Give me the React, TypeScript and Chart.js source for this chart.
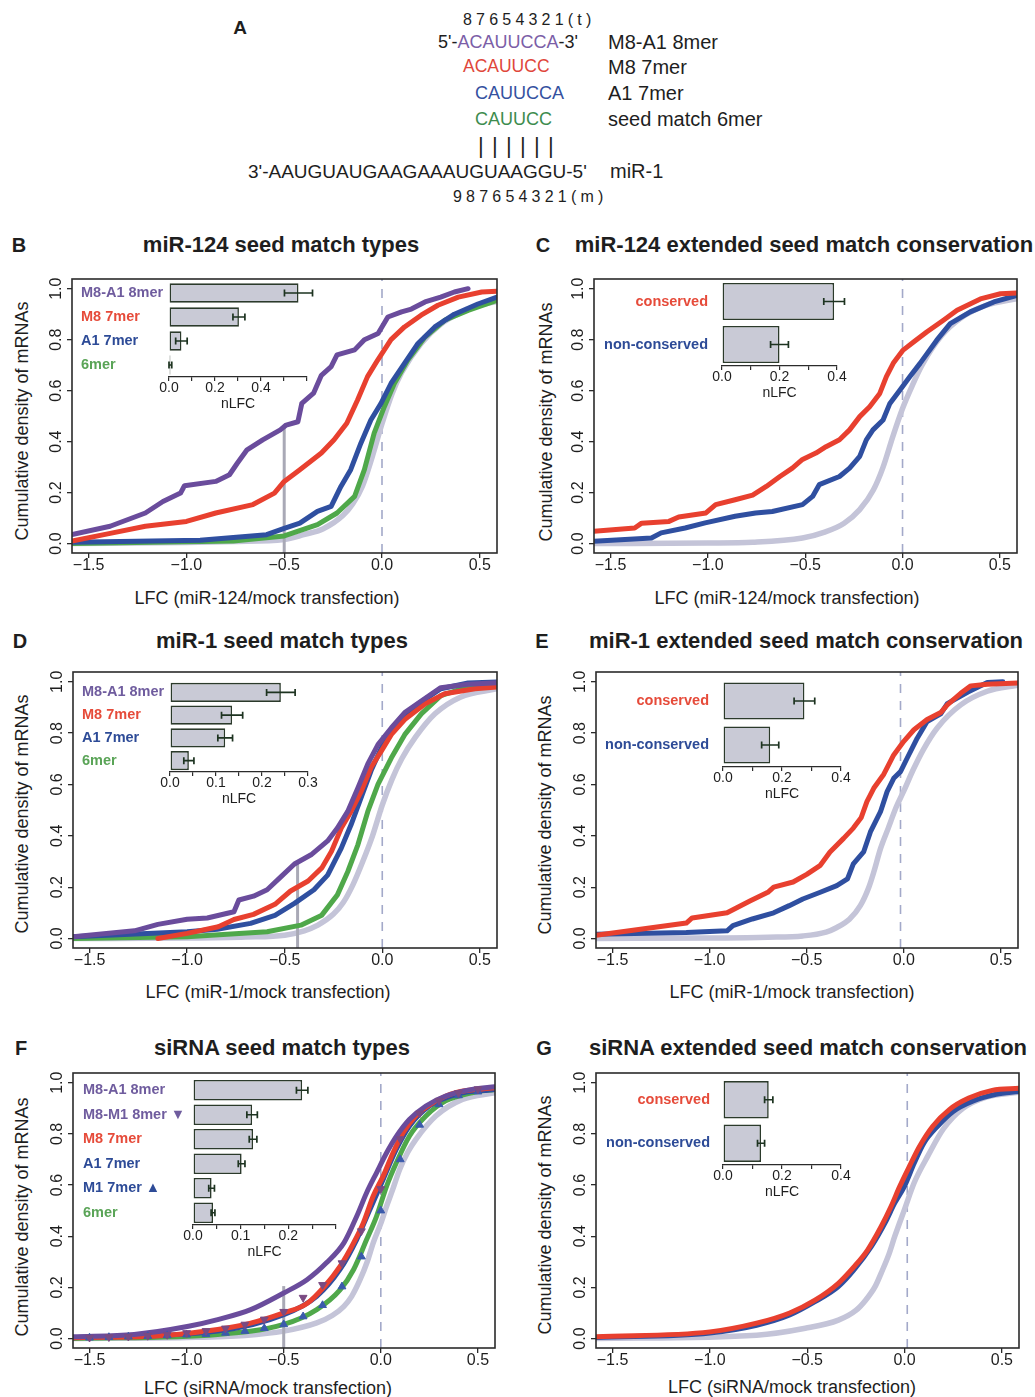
import React, { useEffect, useRef } from "react";
import { Chart, registerables } from "chart.js";

Chart.register(...registerables);

const FONT = "'Liberation Sans', Arial, Helvetica, sans-serif";
Chart.defaults.font.family = FONT;

// ---------- axes ----------
const X_MIN = -1.585;
const X_MAX = 0.588;
const Y_MIN = -0.037;
const Y_MAX = 1.038;
const X_TICKS = [-1.5, -1.0, -0.5, 0.0, 0.5];
const Y_TICKS = [0, 0.2, 0.4, 0.6, 0.8, 1.0];

// ---------- colours ----------
const PURPLE = "#6a4c9c";
const RED = "#e8402f";
const BLUE = "#2f4fa0";
const GREEN = "#4fa84a";
const BGGRAY = "#c4c4d8";
const L_PURPLE = "#6f5c9e";
const L_RED = "#e64b3a";
const L_BLUE = "#2d4b97";
const L_GREEN = "#5aa457";

// ---------- panel B : miR-124 seed match types ----------
const B_8MER_X = [-1.585, -1.39, -1.21, -1.12, -1.03, -1.01, -0.85, -0.78, -0.74, -0.69, -0.61, -0.52, -0.49, -0.43, -0.41, -0.35, -0.31, -0.26, -0.23, -0.14, -0.09, -0.02, 0.03, 0.1, 0.15, 0.22, 0.3, 0.37, 0.44];
const B_8MER_Y = [0.035, 0.068, 0.12, 0.165, 0.198, 0.227, 0.244, 0.27, 0.315, 0.368, 0.407, 0.446, 0.465, 0.478, 0.55, 0.59, 0.66, 0.694, 0.74, 0.76, 0.8, 0.824, 0.889, 0.909, 0.92, 0.948, 0.967, 0.987, 1.0];
const B_M8_X = [-1.585, -1.39, -1.21, -1.0, -0.85, -0.66, -0.55, -0.5, -0.42, -0.31, -0.245, -0.18, -0.125, -0.074, -0.022, 0.046, 0.115, 0.2, 0.286, 0.39, 0.51, 0.588];
const B_M8_Y = [0.01, 0.04, 0.068, 0.087, 0.12, 0.153, 0.198, 0.244, 0.29, 0.355, 0.407, 0.472, 0.563, 0.655, 0.72, 0.8, 0.85, 0.896, 0.935, 0.967, 0.987, 0.99];
const B_A1_X = [-1.585, -0.93, -0.59, -0.5, -0.42, -0.33, -0.26, -0.21, -0.16, -0.108, -0.057, -0.005, 0.046, 0.115, 0.184, 0.27, 0.37, 0.49, 0.588];
const B_A1_Y = [0.005, 0.013, 0.035, 0.06, 0.08, 0.126, 0.146, 0.224, 0.29, 0.394, 0.485, 0.55, 0.628, 0.707, 0.785, 0.85, 0.9, 0.94, 0.967];
const B_6MER_X = [-1.585, -0.76, -0.5, -0.33, -0.23, -0.14, -0.09, -0.04, 0.012, 0.063, 0.132, 0.22, 0.32, 0.44, 0.588];
const B_6MER_Y = [0, 0.01, 0.03, 0.074, 0.12, 0.185, 0.29, 0.433, 0.537, 0.628, 0.72, 0.81, 0.876, 0.915, 0.954];
const B_BG_X = [-1.585, -1.0, -0.75, -0.5, -0.4, -0.3, -0.2, -0.15, -0.1, -0.05, 0.0, 0.05, 0.1, 0.2, 0.3, 0.4, 0.5, 0.588];
const B_BG_Y = [0, 0.004, 0.008, 0.016, 0.035, 0.058, 0.11, 0.155, 0.225, 0.34, 0.47, 0.585, 0.67, 0.785, 0.86, 0.905, 0.935, 0.95];
const B_MARK = [-0.5, 0.46];
const B_INSET_LABELS = ["M8-A1 8mer", "M8 7mer", "A1 7mer", "6mer"];
const B_INSET_NLFC = [0.563, 0.304, 0.054, 0.006];
const B_INSET_ERR = [0.061, 0.026, 0.025, 0.006];
const B_INSET_TICKS = [0, 0.1, 0.2, 0.3, 0.4, 0.5, 0.6];
const B_INSET_LABELED = [0, 0.2, 0.4];

// ---------- panel C : miR-124 conservation ----------
const C_CONS_X = [-1.585, -1.376, -1.34, -1.2, -1.15, -1.01, -0.96, -0.86, -0.77, -0.7, -0.63, -0.566, -0.514, -0.445, -0.393, -0.324, -0.272, -0.22, -0.169, -0.117, -0.083, -0.048, 0.003, 0.055, 0.124, 0.21, 0.28, 0.4, 0.503, 0.588];
const C_CONS_Y = [0.048, 0.061, 0.08, 0.087, 0.104, 0.12, 0.153, 0.172, 0.19, 0.224, 0.263, 0.296, 0.33, 0.355, 0.38, 0.407, 0.446, 0.498, 0.537, 0.589, 0.655, 0.707, 0.759, 0.79, 0.83, 0.876, 0.915, 0.96, 0.98, 0.983];
const C_NONC_X = [-1.585, -1.29, -1.24, -1.117, -1.014, -0.86, -0.755, -0.669, -0.514, -0.462, -0.428, -0.324, -0.272, -0.22, -0.186, -0.152, -0.1, -0.065, -0.014, 0.038, 0.09, 0.176, 0.245, 0.348, 0.469, 0.588];
const C_NONC_Y = [0.009, 0.022, 0.042, 0.061, 0.081, 0.107, 0.12, 0.126, 0.153, 0.185, 0.231, 0.263, 0.296, 0.342, 0.407, 0.446, 0.485, 0.55, 0.602, 0.655, 0.707, 0.798, 0.863, 0.909, 0.948, 0.974];
const C_BG_X = [-1.585, -1.0, -0.77, -0.514, -0.4, -0.3, -0.22, -0.15, -0.1, -0.05, 0.0, 0.05, 0.1, 0.2, 0.3, 0.43, 0.588];
const C_BG_Y = [0, 0.002, 0.005, 0.022, 0.045, 0.08, 0.133, 0.21, 0.3, 0.42, 0.53, 0.62, 0.7, 0.815, 0.885, 0.935, 0.961];
const CONS_LABELS = ["conserved", "non-conserved"];
const C_INSET_NLFC = [0.39, 0.2];
const C_INSET_ERR = [0.036, 0.031];
const CONS_TICKS = [0, 0.1, 0.2, 0.3, 0.4];
const CONS_LABELED = [0, 0.2, 0.4];

// ---------- panel D : miR-1 seed match types ----------
const D_8MER_X = [-1.585, -1.27, -1.15, -1.0, -0.897, -0.76, -0.735, -0.66, -0.59, -0.52, -0.45, -0.365, -0.28, -0.23, -0.177, -0.125, -0.074, -0.022, 0.046, 0.115, 0.2, 0.3, 0.44, 0.588];
const D_8MER_Y = [0.007, 0.03, 0.055, 0.075, 0.08, 0.104, 0.15, 0.165, 0.19, 0.24, 0.29, 0.326, 0.38, 0.43, 0.495, 0.586, 0.68, 0.755, 0.82, 0.88, 0.925, 0.977, 0.99, 0.996];
const D_M8_X = [-1.15, -1.0, -0.84, -0.76, -0.66, -0.55, -0.47, -0.38, -0.31, -0.26, -0.21, -0.16, -0.108, -0.057, -0.005, 0.046, 0.115, 0.22, 0.32, 0.475, 0.588];
const D_M8_Y = [0.0, 0.02, 0.046, 0.074, 0.094, 0.133, 0.185, 0.224, 0.275, 0.34, 0.43, 0.495, 0.573, 0.667, 0.73, 0.794, 0.853, 0.914, 0.953, 0.973, 0.98];
const D_A1_X = [-1.585, -1.0, -0.846, -0.675, -0.55, -0.45, -0.35, -0.28, -0.21, -0.16, -0.108, -0.057, 0.012, 0.098, 0.184, 0.3, 0.44, 0.588];
const D_A1_Y = [0.007, 0.026, 0.036, 0.059, 0.09, 0.137, 0.19, 0.247, 0.352, 0.443, 0.55, 0.654, 0.77, 0.862, 0.914, 0.973, 0.995, 0.999];
const D_6MER_X = [-1.585, -1.0, -0.59, -0.417, -0.31, -0.23, -0.177, -0.125, -0.074, -0.022, 0.046, 0.115, 0.2, 0.3, 0.44, 0.588];
const D_6MER_Y = [0, 0.007, 0.026, 0.052, 0.091, 0.17, 0.26, 0.365, 0.495, 0.6, 0.703, 0.794, 0.875, 0.946, 0.98, 0.99];
const D_BG_X = [-1.585, -1.0, -0.7, -0.5, -0.4, -0.33, -0.25, -0.2, -0.15, -0.1, -0.05, 0.0, 0.05, 0.1, 0.17, 0.27, 0.4, 0.588];
const D_BG_Y = [0, 0.002, 0.006, 0.013, 0.03, 0.052, 0.095, 0.14, 0.21, 0.3, 0.4, 0.52, 0.62, 0.7, 0.784, 0.875, 0.94, 0.973];
const D_MARK = [-0.434, 0.293];
const D_INSET_NLFC = [0.241, 0.135, 0.12, 0.041];
const D_INSET_ERR = [0.031, 0.023, 0.016, 0.011];
const D_INSET_TICKS = [0, 0.05, 0.1, 0.15, 0.2, 0.25, 0.3];
const D_INSET_LABELED = [0, 0.1, 0.2, 0.3];

// ---------- panel E : miR-1 conservation ----------
const E_CONS_X = [-1.585, -1.29, -1.12, -1.09, -0.91, -0.86, -0.79, -0.7, -0.67, -0.57, -0.5, -0.43, -0.38, -0.31, -0.26, -0.22, -0.19, -0.155, -0.103, -0.052, 0, 0.052, 0.12, 0.19, 0.224, 0.293, 0.345, 0.43, 0.588];
const E_CONS_Y = [0.013, 0.043, 0.06, 0.08, 0.1, 0.12, 0.147, 0.18, 0.2, 0.22, 0.25, 0.285, 0.337, 0.39, 0.43, 0.47, 0.533, 0.585, 0.64, 0.715, 0.768, 0.813, 0.853, 0.88, 0.91, 0.955, 0.984, 0.99, 0.995];
const E_NONC_X = [-1.585, -1.12, -0.91, -0.88, -0.78, -0.67, -0.59, -0.52, -0.43, -0.345, -0.29, -0.26, -0.207, -0.172, -0.12, -0.086, -0.052, -0.017, 0.017, 0.069, 0.12, 0.19, 0.224, 0.33, 0.43, 0.51];
const E_NONC_Y = [0.017, 0.023, 0.03, 0.05, 0.076, 0.1, 0.128, 0.154, 0.18, 0.206, 0.232, 0.291, 0.337, 0.415, 0.494, 0.572, 0.624, 0.65, 0.702, 0.78, 0.845, 0.875, 0.915, 0.96, 0.997, 1.0];
const E_BG_X = [-1.585, -1.0, -0.7, -0.52, -0.4, -0.345, -0.28, -0.224, -0.18, -0.155, -0.12, -0.08, -0.04, 0.0, 0.05, 0.1, 0.172, 0.293, 0.43, 0.588];
const E_BG_Y = [0, 0.002, 0.005, 0.01, 0.025, 0.043, 0.075, 0.128, 0.2, 0.258, 0.35, 0.43, 0.51, 0.575, 0.66, 0.735, 0.82, 0.91, 0.963, 0.987];
const E_INSET_NLFC = [0.276, 0.16];
const E_INSET_ERR = [0.035, 0.029];

// ---------- panel F : siRNA seed match types ----------
const F_8MER_X = [-1.585, -1.27, -0.99, -0.84, -0.67, -0.5, -0.38, -0.28, -0.19, -0.124, -0.073, -0.022, 0.03, 0.08, 0.147, 0.232, 0.334, 0.47, 0.588];
const F_8MER_Y = [0.007, 0.016, 0.048, 0.074, 0.113, 0.178, 0.23, 0.296, 0.374, 0.478, 0.57, 0.648, 0.726, 0.79, 0.856, 0.909, 0.948, 0.974, 0.984];
const F_M8_X = [-1.585, -1.11, -0.84, -0.67, -0.5, -0.38, -0.29, -0.21, -0.14, -0.09, -0.039, 0.012, 0.063, 0.114, 0.18, 0.27, 0.385, 0.588];
const F_M8_Y = [0.003, 0.012, 0.035, 0.06, 0.1, 0.137, 0.204, 0.282, 0.374, 0.452, 0.557, 0.635, 0.726, 0.804, 0.87, 0.922, 0.961, 0.98];
const F_A1_X = [-1.585, -0.84, -0.5, -0.33, -0.21, -0.124, -0.056, 0.012, 0.08, 0.147, 0.25, 0.385, 0.588];
const F_A1_Y = [0.003, 0.029, 0.093, 0.165, 0.27, 0.387, 0.504, 0.622, 0.74, 0.83, 0.909, 0.954, 0.974];
const F_6MER_X = [-1.585, -0.84, -0.5, -0.33, -0.21, -0.14, -0.073, -0.022, 0.03, 0.08, 0.147, 0.232, 0.334, 0.47, 0.588];
const F_6MER_Y = [0, 0.016, 0.055, 0.113, 0.19, 0.27, 0.387, 0.478, 0.596, 0.687, 0.791, 0.87, 0.929, 0.961, 0.974];
const F_BG_X = [-1.585, -1.0, -0.7, -0.5, -0.33, -0.25, -0.19, -0.15, -0.107, -0.07, -0.039, 0.0, 0.03, 0.06, 0.097, 0.14, 0.18, 0.283, 0.42, 0.588];
const F_BG_Y = [0, 0.004, 0.012, 0.029, 0.061, 0.09, 0.126, 0.165, 0.23, 0.3, 0.374, 0.45, 0.518, 0.58, 0.661, 0.73, 0.778, 0.87, 0.935, 0.961];
const F_MARKER_X = [-1.5, -1.4, -1.3, -1.2, -1.1, -1.0, -0.9, -0.8, -0.7, -0.6, -0.5, -0.4, -0.3, -0.2, -0.1, 0.0, 0.1, 0.2, 0.3, 0.4, 0.5];
const F_M8M1_Y = [0.004, 0.006, 0.008, 0.011, 0.015, 0.022, 0.03, 0.04, 0.055, 0.075, 0.105, 0.16, 0.21, 0.295, 0.42, 0.585, 0.78, 0.88, 0.93, 0.96, 0.975];
const F_M1_Y = [0.003, 0.005, 0.007, 0.009, 0.012, 0.015, 0.017, 0.022, 0.029, 0.04, 0.055, 0.086, 0.13, 0.203, 0.32, 0.5, 0.7, 0.835, 0.915, 0.95, 0.965];
const F_MARK = [-0.5, 0.205];
const F_INSET_LABELS = ["M8-A1 8mer", "M8-M1 8mer \u25BC", "M8 7mer", "A1 7mer", "M1 7mer \u25B2", "6mer"];
const F_INSET_NLFC = [0.229, 0.124, 0.126, 0.102, 0.039, 0.042];
const F_INSET_ERR = [0.012, 0.011, 0.008, 0.007, 0.006, 0.004];
const F_INSET_TICKS = [0, 0.05, 0.1, 0.15, 0.2, 0.25, 0.3];
const F_INSET_LABELED = [0, 0.1, 0.2];

// ---------- panel G : siRNA conservation ----------
const G_CONS_X = [-1.585, -1.0, -0.76, -0.59, -0.46, -0.34, -0.26, -0.19, -0.12, -0.07, -0.025, 0.025, 0.076, 0.145, 0.23, 0.33, 0.45, 0.588];
const G_CONS_Y = [0.007, 0.026, 0.06, 0.1, 0.15, 0.216, 0.28, 0.346, 0.438, 0.515, 0.594, 0.673, 0.75, 0.83, 0.895, 0.94, 0.97, 0.978];
const G_NONC_X = [-1.585, -1.0, -0.76, -0.59, -0.46, -0.34, -0.26, -0.17, -0.1, -0.05, 0.0, 0.05, 0.1, 0.17, 0.25, 0.35, 0.47, 0.588];
const G_NONC_Y = [0.004, 0.022, 0.052, 0.092, 0.144, 0.203, 0.268, 0.36, 0.452, 0.53, 0.596, 0.686, 0.765, 0.83, 0.888, 0.928, 0.955, 0.966];
const G_BG_X = [-1.585, -0.76, -0.51, -0.34, -0.25, -0.2, -0.15, -0.12, -0.08, -0.05, 0.0, 0.05, 0.12, 0.2, 0.3, 0.42, 0.588];
const G_BG_Y = [0, 0.013, 0.04, 0.072, 0.11, 0.15, 0.205, 0.256, 0.33, 0.4, 0.505, 0.61, 0.714, 0.82, 0.9, 0.944, 0.963];
const G_INSET_NLFC = [0.155, 0.129];
const G_INSET_ERR = [0.014, 0.012];

// dashed reference line positions (LFC)
const DASH_X = { B: 0, C: 0, D: 0, E: -0.017, F: 0, G: 0.014 };

// ---------- helpers ----------
type Curve = { x: number[]; y: number[]; color: string; w: number; smooth?: boolean };
type Markers = { x: number[]; y: number[]; color: string; down: boolean };
type Inset = {
  l: number; t: number; r: number; b: number;
  align: "far" | "near"; labelLeft?: number; pad?: number;
  labels: string[]; colors: string[]; values: number[]; errs: number[];
  max: number; ticks: number[]; labeled: number[]; pct: number;
};
type Panel = {
  id: string; title: string; xtitle: string; dash: number;
  box: { l: number; t: number; r: number; b: number };
  letterPos: [number, number]; titlePos: [number, number]; yPos: [number, number]; xPos: [number, number];
  curves: Curve[]; markers?: Markers[]; mark?: number[]; inset: Inset;
};

const pts = (xs: number[], ys: number[]) => xs.map((x, i) => ({ x, y: ys[i] }));
const fmtX = (v: number) => (v < -1e-9 ? "\u2212" : "") + Math.abs(v).toFixed(1);

const framePlugin = {
  id: "frame",
  afterDraw(chart: any) {
    const { ctx, chartArea: a } = chart;
    ctx.save();
    ctx.strokeStyle = "#2b2b2b";
    ctx.lineWidth = 1.6;
    ctx.strokeRect(a.left, a.top, a.right - a.left, a.bottom - a.top);
    ctx.restore();
  },
};

const MAIN_YW = 50;
const MAIN_XH = 30;
const MAIN_PT = 16;
const MAIN_PR = 14;
const LW = 5;

function mainConfig(p: Panel): any {
  const ds: any[] = [];
  (p.markers || []).forEach((m) =>
    ds.push({
      data: pts(m.x, m.y), showLine: false, pointStyle: "triangle", pointRotation: m.down ? 180 : 0,
      pointRadius: 4.5, pointBackgroundColor: m.color, pointBorderColor: m.color, pointBorderWidth: 1, clip: 4,
    })
  );
  const line = (c: Curve) => ({
    data: pts(c.x, c.y), borderColor: c.color, borderWidth: c.w, pointRadius: 0, fill: false,
    tension: 0, cubicInterpolationMode: c.smooth ? "monotone" : "default",
    borderJoinStyle: "round", borderCapStyle: "round", clip: 0,
  });
  const fg = p.curves.filter((c) => c.color !== BGGRAY);
  const bg = p.curves.filter((c) => c.color === BGGRAY);
  fg.forEach((c) => ds.push(line(c)));
  if (p.mark) {
    ds.push({ data: [{ x: p.mark[0], y: Y_MIN }, { x: p.mark[0], y: p.mark[1] }], borderColor: "#a9a9b6", borderWidth: 3, pointRadius: 0, clip: 0 });
  }
  bg.forEach((c) => ds.push(line(c)));
  ds.push({ data: [{ x: p.dash, y: Y_MIN }, { x: p.dash, y: Y_MAX }], borderColor: "#a3a9c9", borderWidth: 1.6, borderDash: [9, 8], pointRadius: 0, clip: 0 });

  const axisCommon = {
    grid: { display: true, drawOnChartArea: false, drawTicks: true, tickLength: 5, color: "#2b2b2b", tickColor: "#2b2b2b", lineWidth: 1.3 },
    border: { display: false },
  };
  return {
    type: "line",
    data: { datasets: ds },
    options: {
      animation: false, responsive: false, events: [],
      layout: { padding: { left: 0, top: MAIN_PT, right: MAIN_PR, bottom: 0 }, autoPadding: false },
      plugins: { legend: { display: false }, tooltip: { enabled: false }, title: { display: false } },
      scales: {
        x: {
          type: "linear", min: X_MIN, max: X_MAX, ...axisCommon,
          afterBuildTicks: (s: any) => { s.ticks = X_TICKS.map((v) => ({ value: v })); },
          afterFit: (s: any) => { s.height = MAIN_XH; },
          ticks: { autoSkip: false, maxRotation: 0, minRotation: 0, padding: 0, color: "#1e1e1e", font: { size: 16, lineHeight: 1 }, callback: (v: any) => fmtX(Number(v)) },
        },
        y: {
          type: "linear", min: Y_MIN, max: Y_MAX, ...axisCommon,
          afterBuildTicks: (s: any) => { s.ticks = Y_TICKS.map((v) => ({ value: v })); },
          afterFit: (s: any) => { s.width = MAIN_YW; },
          ticks: { autoSkip: false, minRotation: 90, maxRotation: 90, crossAlign: "center", padding: -1, color: "#1e1e1e", font: { size: 16, lineHeight: 1 }, callback: (v: any) => Number(v).toFixed(1) },
        },
      },
    },
    plugins: [framePlugin],
  };
}

const INSET_XH = 36;
const INSET_PT = 26;
const INSET_PR = 16;

function insetGeom(s: Inset) {
  const yw = s.align === "far" ? s.l - (s.labelLeft as number) : 140;
  const left = s.l - yw;
  const top = s.t - INSET_PT;
  return { yw, left, top, width: s.r - left + INSET_PR, height: s.b - top + INSET_XH };
}

function insetConfig(s: Inset): any {
  const g = insetGeom(s);
  const errPlugin = {
    id: "errbars",
    afterDatasetsDraw(chart: any) {
      const ctx = chart.ctx;
      const xs = chart.scales.x;
      const meta = chart.getDatasetMeta(0);
      ctx.save();
      ctx.strokeStyle = "#1d3320";
      ctx.lineWidth = 1.7;
      meta.data.forEach((bar: any, i: number) => {
        const y = bar.y;
        const x1 = xs.getPixelForValue(Math.max(0, s.values[i] - s.errs[i]));
        const x2 = xs.getPixelForValue(s.values[i] + s.errs[i]);
        ctx.beginPath();
        ctx.moveTo(x1, y); ctx.lineTo(x2, y);
        ctx.moveTo(x1, y - 3.5); ctx.lineTo(x1, y + 3.5);
        ctx.moveTo(x2, y - 3.5); ctx.lineTo(x2, y + 3.5);
        ctx.stroke();
      });
      ctx.restore();
    },
  };
  return {
    type: "bar",
    data: {
      labels: s.labels,
      datasets: [{ data: s.values, backgroundColor: "#c9cad6", borderColor: "#2b3a2b", borderWidth: 1.6, borderSkipped: false, categoryPercentage: 1, barPercentage: s.pct }],
    },
    options: {
      indexAxis: "y", animation: false, responsive: false, events: [],
      layout: { padding: { left: 0, top: INSET_PT, right: INSET_PR, bottom: 0 }, autoPadding: false },
      plugins: { legend: { display: false }, tooltip: { enabled: false }, title: { display: false } },
      scales: {
        x: {
          type: "linear", min: 0, max: s.max,
          afterBuildTicks: (sc: any) => { sc.ticks = s.ticks.map((v) => ({ value: v })); },
          afterFit: (sc: any) => { sc.height = INSET_XH; },
          grid: { display: true, drawOnChartArea: false, drawTicks: true, tickLength: 4, color: "#2b2b2b", tickColor: "#2b2b2b", lineWidth: 1.2 },
          border: { display: true, color: "#2b2b2b", width: 1.3 },
          ticks: {
            autoSkip: false, maxRotation: 0, minRotation: 0, padding: 0, color: "#1e1e1e", font: { size: 14, lineHeight: 1 },
            callback: (v: any) => { const n = Number(v); return s.labeled.some((l) => Math.abs(l - n) < 1e-9) ? n.toFixed(1) : ""; },
          },
          title: { display: true, text: "nLFC", color: "#1e1e1e", font: { size: 14 }, padding: { top: 0, bottom: 0 } },
        },
        y: {
          type: "category",
          afterFit: (sc: any) => { sc.width = g.yw; },
          grid: { display: false, drawTicks: false },
          border: { display: false },
          ticks: { crossAlign: s.align, padding: s.align === "near" ? (s.pad as number) : 0, font: { size: 14.5, weight: "bold" }, color: (ctx: any) => s.colors[ctx.index] },
        },
      },
    },
    plugins: [errPlugin],
  };
}

// ---------- panels ----------
const PANELS: Panel[] = [
  {
    id: "B", title: "miR-124 seed match types", xtitle: "LFC (miR-124/mock transfection)", dash: DASH_X.B,
    box: { l: 72, t: 279, r: 497, b: 553 },
    letterPos: [19, 245], titlePos: [281, 245], yPos: [22, 421], xPos: [267, 598],
    curves: [
      { x: B_8MER_X, y: B_8MER_Y, color: PURPLE, w: LW },
      { x: B_M8_X, y: B_M8_Y, color: RED, w: LW },
      { x: B_A1_X, y: B_A1_Y, color: BLUE, w: LW },
      { x: B_6MER_X, y: B_6MER_Y, color: GREEN, w: LW },
      { x: B_BG_X, y: B_BG_Y, color: BGGRAY, w: 5.5, smooth: true },
    ],
    mark: B_MARK,
    inset: {
      l: 169, t: 281, r: 307, b: 377, align: "far", labelLeft: 81,
      labels: B_INSET_LABELS, colors: [L_PURPLE, L_RED, L_BLUE, L_GREEN], values: B_INSET_NLFC, errs: B_INSET_ERR,
      max: 0.6, ticks: B_INSET_TICKS, labeled: B_INSET_LABELED, pct: 0.81,
    },
  },
  {
    id: "C", title: "miR-124 extended seed match conservation", xtitle: "LFC (miR-124/mock transfection)", dash: DASH_X.C,
    box: { l: 594, t: 279, r: 1017, b: 553 },
    letterPos: [543, 245], titlePos: [804, 245], yPos: [546, 422], xPos: [787, 598],
    curves: [
      { x: C_CONS_X, y: C_CONS_Y, color: RED, w: LW },
      { x: C_NONC_X, y: C_NONC_Y, color: BLUE, w: LW },
      { x: C_BG_X, y: C_BG_Y, color: BGGRAY, w: 5.5, smooth: true },
    ],
    inset: {
      l: 722, t: 280, r: 837, b: 366, align: "near", pad: 14,
      labels: CONS_LABELS, colors: [L_RED, L_BLUE], values: C_INSET_NLFC, errs: C_INSET_ERR,
      max: 0.4, ticks: CONS_TICKS, labeled: CONS_LABELED, pct: 0.86,
    },
  },
  {
    id: "D", title: "miR-1 seed match types", xtitle: "LFC (miR-1/mock transfection)", dash: DASH_X.D,
    box: { l: 73, t: 672, r: 497, b: 948 },
    letterPos: [20, 641], titlePos: [282, 641], yPos: [22, 814], xPos: [268, 992],
    curves: [
      { x: D_8MER_X, y: D_8MER_Y, color: PURPLE, w: LW },
      { x: D_M8_X, y: D_M8_Y, color: RED, w: LW },
      { x: D_A1_X, y: D_A1_Y, color: BLUE, w: LW },
      { x: D_6MER_X, y: D_6MER_Y, color: GREEN, w: LW },
      { x: D_BG_X, y: D_BG_Y, color: BGGRAY, w: 5.5, smooth: true },
    ],
    mark: D_MARK,
    inset: {
      l: 170, t: 681, r: 308, b: 772, align: "far", labelLeft: 82,
      labels: B_INSET_LABELS, colors: [L_PURPLE, L_RED, L_BLUE, L_GREEN], values: D_INSET_NLFC, errs: D_INSET_ERR,
      max: 0.3, ticks: D_INSET_TICKS, labeled: D_INSET_LABELED, pct: 0.84,
    },
  },
  {
    id: "E", title: "miR-1 extended seed match conservation", xtitle: "LFC (miR-1/mock transfection)", dash: DASH_X.E,
    box: { l: 596, t: 672, r: 1018, b: 948 },
    letterPos: [542, 641], titlePos: [806, 641], yPos: [545, 815], xPos: [792, 992],
    curves: [
      { x: E_CONS_X, y: E_CONS_Y, color: RED, w: LW },
      { x: E_NONC_X, y: E_NONC_Y, color: BLUE, w: LW },
      { x: E_BG_X, y: E_BG_Y, color: BGGRAY, w: 5.5, smooth: true },
    ],
    inset: {
      l: 723, t: 679, r: 841, b: 767, align: "near", pad: 14,
      labels: CONS_LABELS, colors: [L_RED, L_BLUE], values: E_INSET_NLFC, errs: E_INSET_ERR,
      max: 0.4, ticks: CONS_TICKS, labeled: CONS_LABELED, pct: 0.84,
    },
  },
  {
    id: "F", title: "siRNA seed match types", xtitle: "LFC (siRNA/mock transfection)", dash: DASH_X.F,
    box: { l: 73, t: 1073, r: 495, b: 1348 },
    letterPos: [21, 1048], titlePos: [282, 1048], yPos: [22, 1217], xPos: [268, 1388],
    curves: [
      { x: F_8MER_X, y: F_8MER_Y, color: PURPLE, w: LW, smooth: true },
      { x: F_M8_X, y: F_M8_Y, color: RED, w: LW, smooth: true },
      { x: F_A1_X, y: F_A1_Y, color: BLUE, w: LW, smooth: true },
      { x: F_6MER_X, y: F_6MER_Y, color: GREEN, w: LW, smooth: true },
      { x: F_BG_X, y: F_BG_Y, color: BGGRAY, w: 5.5, smooth: true },
    ],
    markers: [
      { x: F_MARKER_X, y: F_M8M1_Y, color: "#7a4a82", down: true },
      { x: F_MARKER_X, y: F_M1_Y, color: "#3a5aac", down: false },
    ],
    mark: F_MARK,
    inset: {
      l: 193, t: 1078, r: 336, b: 1225, align: "far", labelLeft: 83,
      labels: F_INSET_LABELS, colors: [L_PURPLE, L_PURPLE, L_RED, L_BLUE, L_BLUE, L_GREEN], values: F_INSET_NLFC, errs: F_INSET_ERR,
      max: 0.3, ticks: F_INSET_TICKS, labeled: F_INSET_LABELED, pct: 0.845,
    },
  },
  {
    id: "G", title: "siRNA extended seed match conservation", xtitle: "LFC (siRNA/mock transfection)", dash: DASH_X.G,
    box: { l: 596, t: 1073, r: 1019, b: 1348 },
    letterPos: [544, 1048], titlePos: [808, 1048], yPos: [545, 1215], xPos: [792, 1387],
    curves: [
      { x: G_CONS_X, y: G_CONS_Y, color: RED, w: LW, smooth: true },
      { x: G_NONC_X, y: G_NONC_Y, color: BLUE, w: LW, smooth: true },
      { x: G_BG_X, y: G_BG_Y, color: BGGRAY, w: 5.5, smooth: true },
    ],
    inset: {
      l: 723, t: 1078, r: 841, b: 1165, align: "near", pad: 13,
      labels: CONS_LABELS, colors: [L_RED, L_BLUE], values: G_INSET_NLFC, errs: G_INSET_ERR,
      max: 0.4, ticks: CONS_TICKS, labeled: CONS_LABELED, pct: 0.86,
    },
  },
];

// ---------- components ----------
function ChartCanvas({ make, left, top, width, height }: { make: () => any; left: number; top: number; width: number; height: number }) {
  const ref = useRef<HTMLCanvasElement>(null);
  useEffect(() => {
    const c = new Chart(ref.current as HTMLCanvasElement, make());
    return () => c.destroy();
  }, []);
  return <canvas ref={ref} width={width} height={height} style={{ position: "absolute", left, top, width, height }} />;
}

function T(props: { x: number; y: number; s: number; children: any; bold?: boolean; color?: string; anchor?: "start" | "middle"; rot?: number; ls?: number }) {
  const { x, y, s, children, bold, color = "#1e1e1e", anchor = "middle", rot, ls } = props;
  const tx = anchor === "start" ? "0" : "-50%";
  return (
    <div
      style={{
        position: "absolute", left: x, top: y, transform: `translate(${tx}, -50%)${rot ? ` rotate(${rot}deg)` : ""}`,
        fontSize: s, fontWeight: bold ? 700 : 400, color, fontFamily: FONT, whiteSpace: "nowrap", lineHeight: 1,
        letterSpacing: ls !== undefined ? ls : "normal",
      }}
    >
      {children}
    </div>
  );
}

function PanelView({ p }: { p: Panel }) {
  const { box } = p;
  const mLeft = box.l - MAIN_YW;
  const mTop = box.t - MAIN_PT;
  const mW = box.r - box.l + MAIN_YW + MAIN_PR;
  const mH = box.b - box.t + MAIN_PT + MAIN_XH;
  const g = insetGeom(p.inset);
  return (
    <>
      <T x={p.letterPos[0]} y={p.letterPos[1]} s={20} bold>{p.id}</T>
      <T x={p.titlePos[0]} y={p.titlePos[1]} s={22} bold>{p.title}</T>
      <T x={p.yPos[0]} y={p.yPos[1]} s={18} rot={-90}>Cumulative density of mRNAs</T>
      <T x={p.xPos[0]} y={p.xPos[1]} s={18}>{p.xtitle}</T>
      <ChartCanvas make={() => mainConfig(p)} left={mLeft} top={mTop} width={mW} height={mH} />
      <ChartCanvas make={() => insetConfig(p.inset)} left={g.left} top={g.top} width={g.width} height={g.height} />
    </>
  );
}

const A_PURPLE = "#7b5ea7";
const A_RED = "#e0473b";
const A_BLUE = "#34519f";
const A_GREEN = "#3d8c4e";

function PanelA() {
  return (
    <>
      <T x={240} y={27} s={19} bold>A</T>
      <T x={463} y={20} s={16} anchor="start" ls={4.2}>87654321(t)</T>
      <T x={438} y={41.5} s={18} anchor="start">
        5'-<span style={{ color: A_PURPLE }}>ACAUUCCA</span>-3'
      </T>
      <T x={463} y={67} s={17.5} anchor="start" color={A_RED}>ACAUUCC</T>
      <T x={475} y={93} s={18} anchor="start" color={A_BLUE}>CAUUCCA</T>
      <T x={475} y={118.5} s={18} anchor="start" color={A_GREEN}>CAUUCC</T>
      <T x={478} y={146} s={22} anchor="start" ls={8.3}>||||||</T>
      <T x={248} y={171} s={19} anchor="start">3'-AAUGUAUGAAGAAAUGUAAGGU-5'</T>
      <T x={453} y={197} s={16} anchor="start" ls={4.2}>987654321(m)</T>
      <T x={608} y={41.5} s={20} anchor="start">M8-A1 8mer</T>
      <T x={608} y={67} s={20} anchor="start">M8 7mer</T>
      <T x={608} y={93} s={20} anchor="start">A1 7mer</T>
      <T x={608} y={118.5} s={20} anchor="start">seed match 6mer</T>
      <T x={610} y={171} s={20} anchor="start">miR-1</T>
    </>
  );
}

export default function App() {
  return (
    <div style={{ position: "absolute", left: 0, top: 0, width: 1035, height: 1397, background: "#ffffff", overflow: "hidden", fontFamily: FONT }}>
      <PanelA />
      {PANELS.map((p) => (
        <PanelView key={p.id} p={p} />
      ))}
    </div>
  );
}
